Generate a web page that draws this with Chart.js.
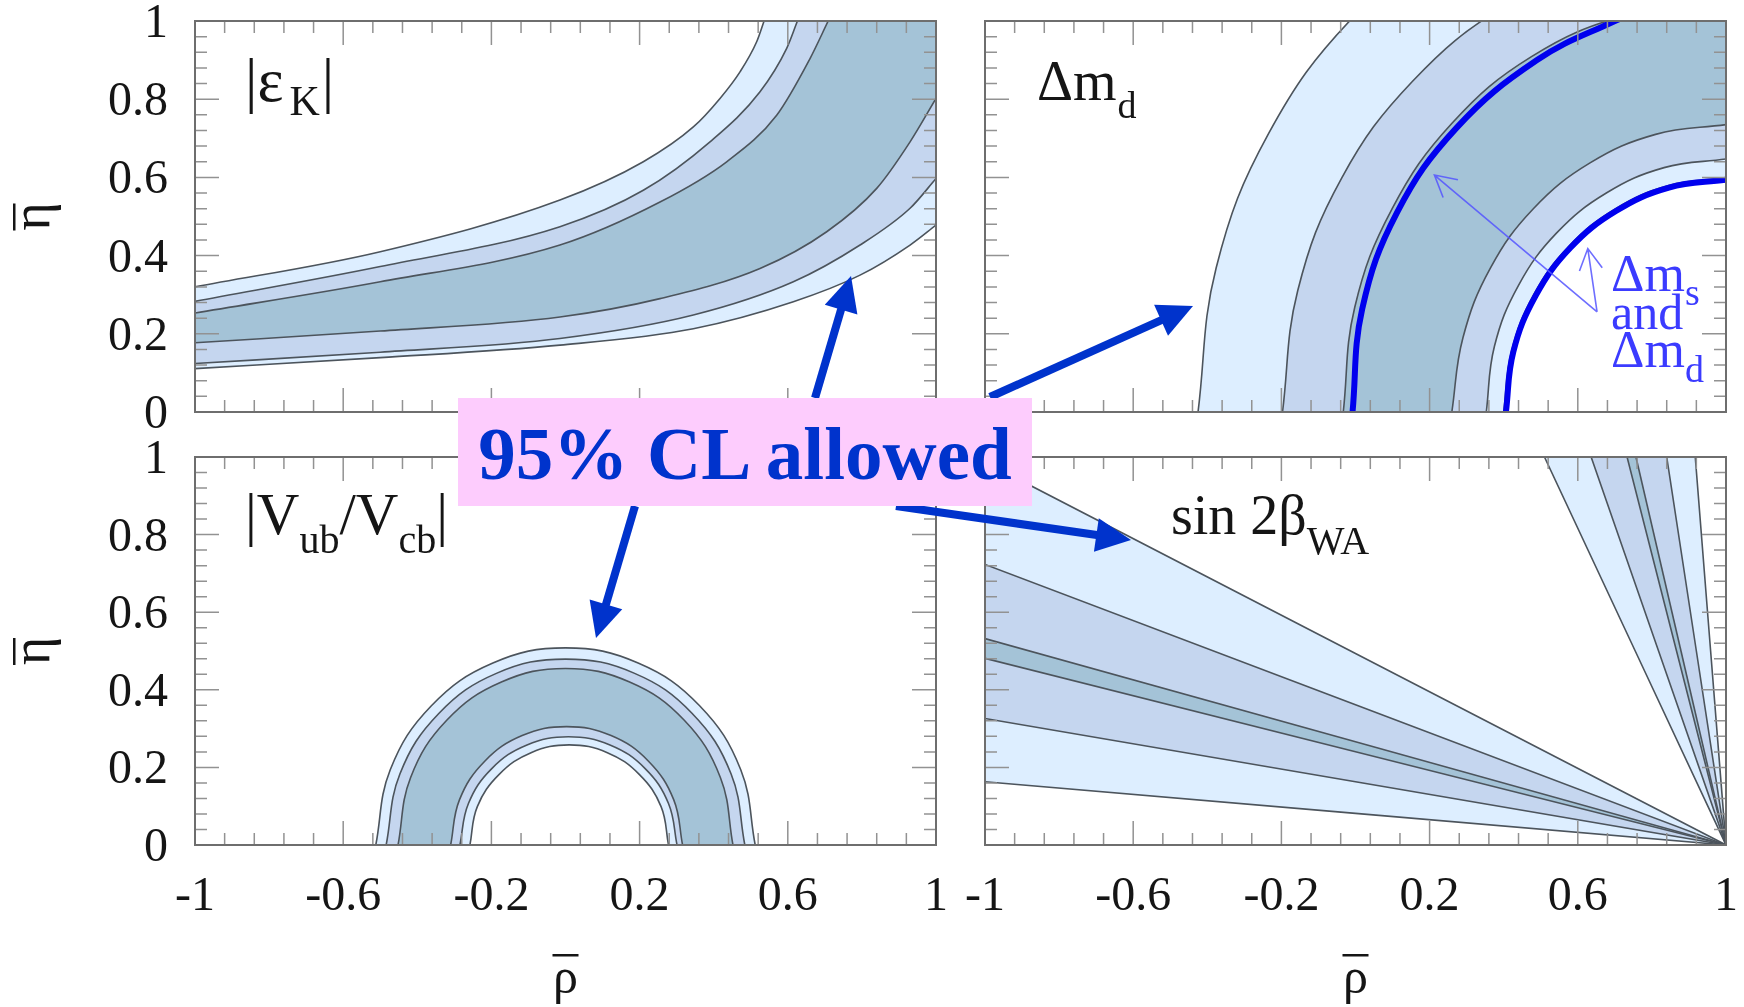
<!DOCTYPE html>
<html>
<head>
<meta charset="utf-8">
<script src="https://cdn.jsdelivr.net/npm/chart.js@4.4.0/dist/chart.umd.min.js"></script>
<style>
  html, body { margin: 0; padding: 0; background: #fff; }
  body { width: 1744px; height: 1007px; position: relative; overflow: hidden; }
  canvas { position: absolute; }
  #arrows { position: absolute; left: 0; top: 0; }
  #cl {
    position: absolute; left: 458px; top: 398px; width: 574px; height: 108px;
    background: #fdccfd; color: #0033cc;
    font: bold 75px "Liberation Serif", "Times New Roman", Times, "DejaVu Serif", serif;
    text-align: center; line-height: 112px; white-space: nowrap;
  }
</style>
</head>
<body>
<canvas id="cEps" width="960" height="440" style="left:0px;top:0px"></canvas>
<canvas id="cDm" width="784" height="440" style="left:960px;top:0px"></canvas>
<canvas id="cVub" width="960" height="567" style="left:0px;top:440px"></canvas>
<canvas id="cSin" width="784" height="567" style="left:960px;top:440px"></canvas>
<svg id="arrows" width="1744" height="1007"></svg>
<div id="cl">95% CL allowed</div>

<script>
const SERIF = '"Liberation Serif", "Times New Roman", Times, "DejaVu Serif", serif';

// axis ticks
const xTickVals = [-1, -0.6, -0.2, 0.2, 0.6, 1];
const xTickLabels = ['-1', '-0.6', '-0.2', '0.2', '0.6', '1'];
const yTickVals = [0, 0.2, 0.4, 0.6, 0.8, 1];
const yTickLabels = ['0', '0.2', '0.4', '0.6', '0.8', '1'];

// |eps_K| contours, [rho, eta], top-left to bottom-right
const epsK1 = [[-1, 0.320], [-0.5, 0.410], [-0.015, 0.542], [0.21, 0.640], [0.345, 0.729], [0.417, 0.802], [0.471, 0.870], [0.516, 0.947], [0.536, 1.0]];
const epsK2 = [[-1, 0.283], [-0.5, 0.372], [-0.015, 0.474], [0.21, 0.567], [0.39, 0.691], [0.525, 0.819], [0.597, 0.930], [0.626, 1.0]];
const epsK3 = [[-1, 0.253], [-0.5, 0.333], [-0.015, 0.427], [0.255, 0.537], [0.435, 0.640], [0.57, 0.759], [0.66, 0.904], [0.709, 1.0]];
const epsK4 = [[-1, 0.177], [-0.5, 0.207], [-0.015, 0.243], [0.255, 0.290], [0.525, 0.367], [0.705, 0.461], [0.84, 0.572], [0.93, 0.691], [1, 0.802]];
const epsK5 = [[-1, 0.124], [-0.5, 0.153], [-0.015, 0.188], [0.345, 0.248], [0.615, 0.333], [0.795, 0.427], [0.93, 0.521], [1, 0.597]];
const epsK6 = [[-1, 0.111], [-0.5, 0.139], [-0.015, 0.171], [0.345, 0.213], [0.615, 0.282], [0.795, 0.350], [0.93, 0.427], [1, 0.478]];

// Delta m_d rings around (1,0), outer to inner
const dmd1 = [[-0.425, 0], [-0.376, 0.369], [-0.234, 0.713], [-0.008, 1.008], [0.288, 1.234], [0.631, 1.376], [1, 1.425]];
const dmd2 = [[-0.197, 0], [-0.156, 0.310], [-0.037, 0.599], [0.154, 0.846], [0.401, 1.037], [0.690, 1.156], [1, 1.197]];
const dmd3 = [[-0.033, 0], [-0.002, 0.268], [0.099, 0.520], [0.261, 0.739], [0.475, 0.909], [0.728, 1.014], [1, 1.05]];
const dmd4 = [[0.26, 0], [0.290, 0.190], [0.364, 0.368], [0.480, 0.520], [0.633, 0.637], [0.810, 0.710], [1, 0.735]];
const dmd5 = [[0.353, 0], [0.375, 0.168], [0.440, 0.324], [0.543, 0.458], [0.677, 0.560], [0.833, 0.625], [1, 0.647]];
const dmd6 = [[0.400, 0], [0.421, 0.155], [0.481, 0.300], [0.576, 0.424], [0.700, 0.519], [0.845, 0.579], [1, 0.599]];
const dmsOuter = [[-0.008, 0], [0.018, 0.263], [0.112, 0.51], [0.272, 0.726], [0.49, 0.90], [0.70, 1.0], [0.78, 1.03]];
const dmsInner = [[0.406, 0], [0.426, 0.154], [0.486, 0.297], [0.580, 0.420], [0.703, 0.514], [0.846, 0.574], [1, 0.594]];

// |Vub/Vcb| half rings, outer to inner
const vub1 = [[-0.512, 0], [-0.473, 0.194], [-0.362, 0.359], [-0.196, 0.469], [0, 0.508], [0.196, 0.469], [0.362, 0.359], [0.473, 0.194], [0.512, 0]];
const vub2 = [[-0.484, 0], [-0.447, 0.183], [-0.342, 0.339], [-0.185, 0.443], [0, 0.479], [0.185, 0.443], [0.342, 0.339], [0.447, 0.183], [0.484, 0]];
const vub3 = [[-0.452, 0], [-0.418, 0.174], [-0.320, 0.322], [-0.173, 0.420], [0, 0.455], [0.173, 0.420], [0.320, 0.322], [0.418, 0.174], [0.452, 0]];
const vub4 = [[-0.310, 0], [-0.286, 0.117], [-0.218, 0.216], [-0.117, 0.282], [0.003, 0.305], [0.123, 0.282], [0.224, 0.216], [0.292, 0.117], [0.316, 0]];
const vub5 = [[-0.285, 0], [-0.262, 0.107], [-0.199, 0.197], [-0.104, 0.258], [0.008, 0.279], [0.120, 0.258], [0.215, 0.197], [0.278, 0.107], [0.301, 0]];
const vub6 = [[-0.258, 0], [-0.238, 0.099], [-0.179, 0.182], [-0.093, 0.238], [0.01, 0.258], [0.113, 0.238], [0.199, 0.182], [0.258, 0.099], [0.278, 0]];

// sin 2beta rays from (1,0): eta at rho=-1 for the flat ones, rho at eta=1 for the steep ones
const sinFlatEta = [0.987, 0.723, 0.532, 0.481, 0.326, 0.163];
const sinSteepRho = [0.51, 0.636, 0.733, 0.757, 0.84, 0.917];

const LIGHT = '#ddeeff', MID = '#c5d6ef', DARK = '#a4c3d7', WHITE = '#ffffff';
const bandColors = [LIGHT, MID, DARK, MID, LIGHT, WHITE];
const EDGE = '#4c545c';

function curve(points, fill, color, smooth) {
  const ds = {
    data: points.map(p => ({x: p[0], y: p[1]})),
    fill: fill,
    backgroundColor: color,
    borderColor: EDGE,
    borderWidth: 1.6,
    tension: 0.4,
    clip: 0
  };
  if (smooth === 'monotone') ds.cubicInterpolationMode = 'monotone';
  return ds;
}

function blueLine(points) {
  return {
    data: points.map(p => ({x: p[0], y: p[1]})),
    fill: false,
    borderColor: '#0000ee',
    borderWidth: 6,
    tension: 0.4,
    clip: 0
  };
}

function richText(ctx, x, y, parts) {
  let cx = x;
  for (const p of parts) {
    ctx.font = p.size + 'px ' + SERIF;
    cx += p.gap || 0;
    ctx.fillText(p.t, cx, y + (p.dy || 0));
    cx += ctx.measureText(p.t).width;
  }
}

function arrowHead(ctx, tx, ty, fx, fy, len, ang) {
  const a = Math.atan2(fy - ty, fx - tx);
  ctx.moveTo(tx + len * Math.cos(a + ang), ty + len * Math.sin(a + ang));
  ctx.lineTo(tx, ty);
  ctx.lineTo(tx + len * Math.cos(a - ang), ty + len * Math.sin(a - ang));
}

const panelDecor = {
  id: 'panelDecor',
  afterDatasetsDraw(chart, args, opts) {
    const {ctx, chartArea: a, scales: {x, y}} = chart;
    ctx.save();
    // inward ticks on all four sides
    ctx.strokeStyle = '#929292';
    ctx.lineWidth = 1.5;
    ctx.beginPath();
    for (let i = 0; i <= 25; i++) {
      const px = x.getPixelForValue(-1 + i * 0.08);
      const len = i % 5 === 0 ? 24 : 12;
      ctx.moveTo(px, a.bottom); ctx.lineTo(px, a.bottom - len);
      ctx.moveTo(px, a.top); ctx.lineTo(px, a.top + len);
    }
    for (let i = 0; i <= 25; i++) {
      const py = y.getPixelForValue(i * 0.04);
      const len = i % 5 === 0 ? 24 : 12;
      ctx.moveTo(a.left, py); ctx.lineTo(a.left + len, py);
      ctx.moveTo(a.right, py); ctx.lineTo(a.right - len, py);
    }
    ctx.stroke();
    ctx.strokeStyle = '#6e6e6e';
    ctx.lineWidth = 2;
    ctx.strokeRect(a.left, a.top, a.right - a.left, a.bottom - a.top);
    ctx.restore();
  },
  afterDraw(chart, args, opts) {
    const {ctx, chartArea: a, scales: {x, y}} = chart;
    ctx.save();
    ctx.fillStyle = '#151515';
    ctx.font = '48px ' + SERIF;
    if (opts.yLabels) {
      ctx.textAlign = 'right';
      yTickVals.forEach((v, i) => ctx.fillText(yTickLabels[i], a.left - 27, y.getPixelForValue(v) + 16));
      const mid = (a.top + a.bottom) / 2;
      ctx.save();
      ctx.translate(49, mid);
      ctx.rotate(-Math.PI / 2);
      ctx.textAlign = 'center';
      ctx.font = '54px ' + SERIF;
      ctx.fillText('η', 0, 0);
      ctx.restore();
      ctx.fillRect(13, mid - 13, 2.5, 27);
    }
    if (opts.xLabels) {
      ctx.textAlign = 'center';
      xTickVals.forEach((v, i) => ctx.fillText(xTickLabels[i], x.getPixelForValue(v), a.bottom + 65));
      const cx = (a.left + a.right) / 2;
      ctx.font = '50px ' + SERIF;
      ctx.fillText('ρ', cx, a.bottom + 148);
      ctx.fillRect(cx - 13, a.bottom + 109, 26, 2.5);
    }
    ctx.textAlign = 'left';
    if (opts.label) richText(ctx, a.left + opts.label.x, a.top + opts.label.y, opts.label.parts);
    if (opts.dmNote) {
      // thin arrows and text marking the Delta m_s constraint
      const from = opts.dmNote.from;
      const fx = x.getPixelForValue(from[0]), fy = y.getPixelForValue(from[1]);
      ctx.strokeStyle = 'rgba(85,85,255,0.85)';
      ctx.lineWidth = 1.6;
      ctx.beginPath();
      for (const t of opts.dmNote.tips) {
        const tx = x.getPixelForValue(t[0]), ty = y.getPixelForValue(t[1]);
        ctx.moveTo(fx, fy); ctx.lineTo(tx, ty);
        arrowHead(ctx, tx, ty, fx, fy, 24, 0.5);
      }
      ctx.stroke();
      ctx.fillStyle = '#3b3bff';
      richText(ctx, 651, 291, [{t: 'Δm', size: 52}, {t: 's', size: 38, dy: 14}]);
      richText(ctx, 651, 329, [{t: 'and', size: 50}]);
      richText(ctx, 651, 367, [{t: 'Δm', size: 52}, {t: 'd', size: 38, dy: 15}]);
    }
    ctx.restore();
  }
};

function makeChart(id, datasets, pad, deco) {
  datasets.forEach((d, i) => { d.order = datasets.length - i; d.pointRadius = 0; });
  return new Chart(document.getElementById(id), {
    type: 'line',
    data: {datasets: datasets},
    options: {
      responsive: false,
      animation: false,
      events: [],
      layout: {padding: pad},
      elements: {line: {capBezierPoints: false}, point: {radius: 0}},
      scales: {
        x: {type: 'linear', min: -1, max: 1, display: false},
        y: {type: 'linear', min: 0, max: 1, display: false}
      },
      plugins: {legend: {display: false}, tooltip: {enabled: false}, panelDecor: deco}
    },
    plugins: [panelDecor]
  });
}

// |eps_K|: paint the regions above each contour, bottom contour first
const epsCurves = [epsK6, epsK5, epsK4, epsK3, epsK2, epsK1];
makeChart('cEps', epsCurves.map((c, i) => curve(c, 'end', bandColors[i], 'monotone')),
  {left: 195, top: 21, right: 24, bottom: 28},
  {yLabels: true, label: {x: 50, y: 80, parts: [
    {t: '|ε', size: 62}, {t: 'K', size: 42, dy: 14, gap: 6}, {t: '|', size: 62, gap: 2}]}});

// Delta m_d: paint the discs, largest first
const dmdCurves = [dmd1, dmd2, dmd3, dmd4, dmd5, dmd6];
makeChart('cDm', dmdCurves.map((c, i) => curve(c, 'origin', bandColors[i])).concat([blueLine(dmsOuter), blueLine(dmsInner)]),
  {left: 25, top: 21, right: 18, bottom: 28},
  {label: {x: 52, y: 79, parts: [{t: 'Δm', size: 56}, {t: 'd', size: 38, dy: 18, gap: 1}]},
   dmNote: {from: [0.652, 0.256], tips: [[0.213, 0.606], [0.627, 0.418]]}});

// |Vub/Vcb|
const vubCurves = [vub1, vub2, vub3, vub4, vub5, vub6];
makeChart('cVub', vubCurves.map((c, i) => curve(c, 'origin', bandColors[i])),
  {left: 195, top: 17, right: 24, bottom: 162},
  {yLabels: true, xLabels: true, label: {x: 50, y: 77, parts: [
    {t: '|V', size: 59}, {t: 'ub', size: 40, dy: 19}, {t: '/V', size: 59}, {t: 'cb', size: 40, dy: 19}, {t: '|', size: 59}]}});

// sin 2beta: flat wedge filled below the rays, steep wedge filled above them
const sinSets = sinFlatEta.map((v, i) => curve([[-1, v], [1, 0]], 'origin', bandColors[i]))
  .concat(sinSteepRho.map((v, i) => curve([[v, 1], [1, 0]], 'end', bandColors[i])));
makeChart('cSin', sinSets,
  {left: 25, top: 17, right: 18, bottom: 162},
  {xLabels: true, label: {x: 186, y: 77, parts: [{t: 'sin 2β', size: 56}, {t: 'WA', size: 40, dy: 20}]}});

// big blue arrows from the "95% CL allowed" box
const clArrows = [
  [815, 398, 851, 276],
  [990, 397, 1193, 306],
  [635, 506, 596, 638],
  [896, 506, 1131, 540]
];
const svg = document.getElementById('arrows');
let svgHtml = '';
for (const [x0, y0, x1, y1] of clArrows) {
  const L = Math.hypot(x1 - x0, y1 - y0);
  const ux = (x1 - x0) / L, uy = (y1 - y0) / L;
  const bx = x1 - 35 * ux, by = y1 - 35 * uy;
  svgHtml += `<line x1="${x0}" y1="${y0}" x2="${bx + 4 * ux}" y2="${by + 4 * uy}" stroke="#0033cc" stroke-width="8"/>`;
  svgHtml += `<polygon points="${x1},${y1} ${bx - 17 * uy},${by + 17 * ux} ${bx + 17 * uy},${by - 17 * ux}" fill="#0033cc"/>`;
}
svg.innerHTML = svgHtml;
</script>
</body>
</html>
